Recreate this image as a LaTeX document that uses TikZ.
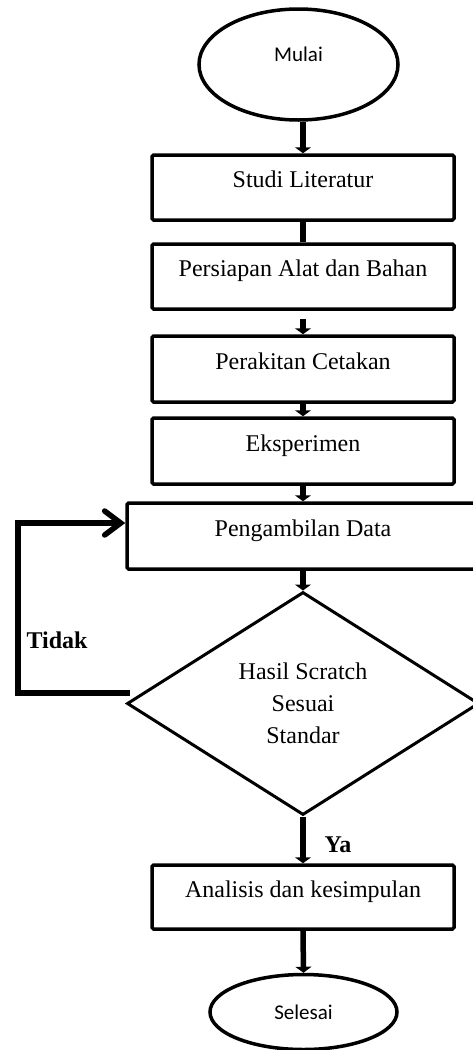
\documentclass[tikz,border=0pt]{standalone}
\usepackage{fontspec}
\setmainfont{Liberation Serif}
\newfontfamily\calibrifont{Carlito}
\usetikzlibrary{shapes.geometric,arrows.meta,calc}

\begin{document}
\begin{tikzpicture}[x=1pt,y=-1pt,
  procbox/.style={draw, line width=3.5pt, rounded corners=1.5pt,
    minimum width=302pt, minimum height=65pt, inner sep=0pt,
    font=\fontsize{24}{28}\selectfont, text height=12pt, text depth=12pt},
  term/.style={draw, ellipse, line width=3.5pt, inner sep=0pt,
    font=\calibrifont\fontsize{21}{25}\selectfont},
  decision/.style={draw, diamond, line width=3pt, inner sep=0pt,
    minimum width=352pt, minimum height=223pt, align=center,
    font=\fontsize{24}{32}\selectfont},
  flow/.style={line width=5.5pt, -{Triangle[length=6pt,width=16pt]}},
  plainflow/.style={line width=5.5pt},
  loopline/.style={line width=5.5pt, -{Straight Barb[length=16pt,width=24pt,line cap=round]}},
  tag/.style={font=\bfseries\fontsize{24}{28}\selectfont}
]
\useasboundingbox (0,0) rectangle (473,1050);
\fill[white] (0,0) rectangle (473,1050);
\clip (0,0) rectangle (473,1050);

% terminals, process steps and the decision
\node[term, minimum width=199pt, minimum height=111pt, text height=10pt, text depth=16pt]
  (mulai) at (298.5,64.5) {Mulai};
\node[procbox] (studi) at (303,187.5) {Studi Literatur};
\node[procbox] (persiapan) at (303,276.5) {Persiapan Alat dan Bahan};
\node[procbox, minimum height=66pt] (perakitan) at (303,369) {Perakitan Cetakan};
\node[procbox, minimum height=66pt] (eksperimen) at (303,451) {Eksperimen};
\node[procbox, minimum width=352pt, minimum height=66pt] (ambil) at (303,536) {Pengambilan Data};
\node[decision] (cek) at (303,703.5) {Hasil Scratch\\Sesuai\\Standar};
\node[procbox, minimum height=64pt] (analisis) at (303,897) {Analisis dan kesimpulan};
\node[term, minimum width=187pt, minimum height=75pt] (selesai) at (303.5,1012) {Selesai};

% main flow
\draw[flow] (studi.north |- mulai.south) -- (studi.north);
\draw[plainflow] (studi.south) -- (persiapan.north);
\draw[flow, shorten <=8pt] (persiapan.south) -- (perakitan.north);
\draw[flow] (perakitan.south) -- (eksperimen.north);
\draw[flow] (eksperimen.south) -- (ambil.north);
\draw[flow] (ambil.south) -- (cek.north);
\draw[flow] (cek.south) -- (analisis.north);
\draw[flow] (analisis.south) -- (selesai.north);

% "Tidak" feedback loop
\coordinate (loopstart) at ($(cek.west)+(4,-10.5)$);
\coordinate (loopbottom) at (18,693);
\coordinate (looptop) at (18,523);
\draw[loopline] (loopstart) -- (loopbottom) -- (looptop) -- (looptop -| ambil.west);

% branch labels
\node[tag] (tidak) at (57,640) {Tidak};
\node[tag] (ya) at (338,845) {Ya};
\end{tikzpicture}
\end{document}
